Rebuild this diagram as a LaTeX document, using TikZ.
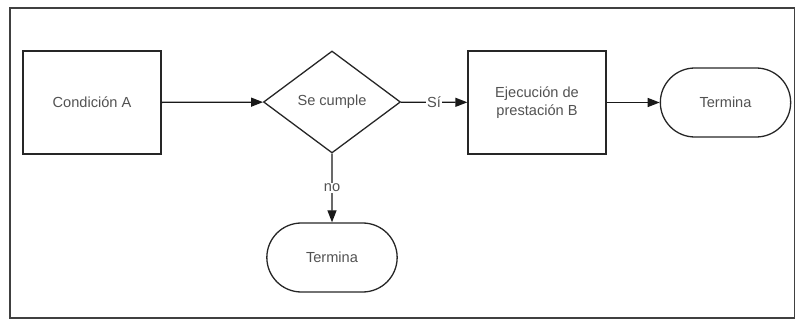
\documentclass[tikz,border=0pt]{standalone}
\usepackage{fontspec}
\setmainfont{Liberation Sans}
\usetikzlibrary{shapes.geometric,shapes.misc,arrows.meta}
\begin{document}
\begin{tikzpicture}[x=1pt,y=-1pt,
  every node/.style={font=\fontsize{14.6}{18}\selectfont, text=black!68},
  proc/.style={draw=black!85, line width=1.3pt, minimum width=138pt, minimum height=103pt, align=center},
  term/.style={draw=black!85, line width=1.3pt, rounded rectangle, minimum width=137pt, minimum height=69pt},
  dec/.style={draw=black!85, line width=1.3pt, diamond, aspect=1.35, minimum width=137pt, minimum height=102pt, inner sep=0pt},
  conn/.style={draw=black!90, line width=1.3pt, -{Triangle[length=12pt,width=9pt]}},
  lbl/.style={fill=white, inner sep=1pt}]
\useasboundingbox (0,0) rectangle (795,320);
\draw[black!75, line width=1.6pt] (10,8) rectangle (795,318);
\node[proc] (a) at (92,102.5) {Condición A};
\node[dec] (d) at (332,102) {Se cumple};
\node[proc] (b) at (537,102.5) {Ejecución de\\prestación B};
\node[term] (t1) at (725.5,102.5) {Termina};
\node[term] (t2) at (332,257.5) {Termina};
\draw[conn] (a) -- (d);
\draw[conn] (d) -- node[lbl] {Sí} (b);
\draw[conn] (b) -- (t1);
\draw[conn] (d) -- node[lbl] {no} (t2);
\end{tikzpicture}
\end{document}
